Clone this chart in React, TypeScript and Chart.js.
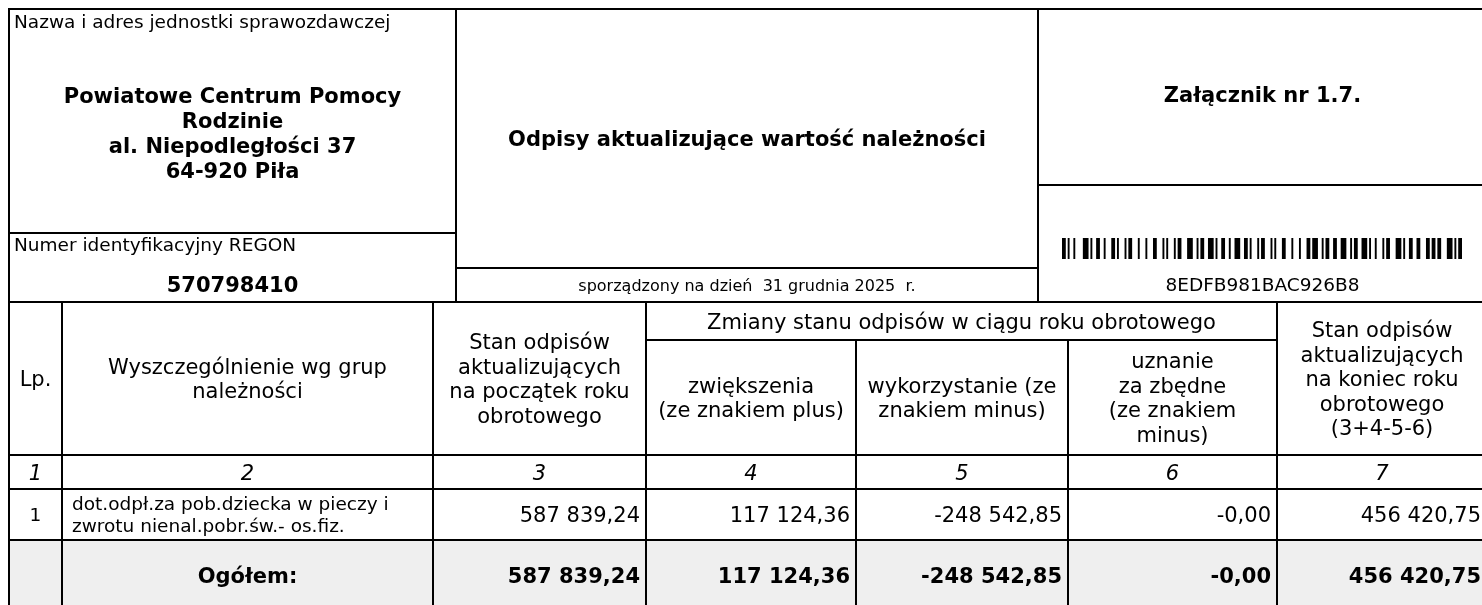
import { useEffect, useRef } from "react";
import { Chart, registerables } from "chart.js";

Chart.register(...registerables);

// ---------- data ----------
const unitLabel = "Nazwa i adres jednostki sprawozdawczej";
const unitNameLines = ["Powiatowe Centrum Pomocy", "Rodzinie", "al. Niepodległości 37", "64-920 Piła"];
const regonLabel = "Numer identyfikacyjny REGON";
const regonValue = "570798410";
const reportTitle = "Odpisy aktualizujące wartość należności";
const reportDate = "sporządzony na dzień  31 grudnia 2025  r.";
const annexLabel = "Załącznik nr 1.7.";
const documentCode = "8EDFB981BAC926B8";

const headerLp = ["Lp."];
const headerName = ["Wyszczególnienie wg grup", "należności"];
const headerOpening = ["Stan odpisów", "aktualizujących", "na początek roku", "obrotowego"];
const headerChanges = ["Zmiany stanu odpisów w ciągu roku obrotowego"];
const headerIncrease = ["zwiększenia", "(ze znakiem plus)"];
const headerUsed = ["wykorzystanie (ze", "znakiem minus)"];
const headerReleased = ["uznanie", "za zbędne", "(ze znakiem", "minus)"];
const headerClosing = ["Stan odpisów", "aktualizujących", "na koniec roku", "obrotowego", "(3+4-5-6)"];
const columnNumbers = ["1", "2", "3", "4", "5", "6", "7"];

const rowLp = ["1"];
const rowNames = [["dot.odpł.za pob.dziecka w pieczy i", "zwrotu nienal.pobr.św.- os.fiz."]];
const openingBalance = [587839.24];
const increases = [117124.36];
const usedAmounts = [-248542.85];
const releasedAmounts = [-0.0];
const closingBalance = [456420.75];

const totalLabel = "Ogółem:";
const totalValues = [587839.24, 117124.36, -248542.85, -0.0, 456420.75];

// ---------- layout (page pixels) ----------
const W = 1482;
const H = 605;
const FONT = "'DejaVu Sans'";
const L = {
  left: 9,
  right: 1487,
  top: 9,
  topSplit1: 456,
  topSplit2: 1038,
  leftBoxLine: 233,
  midBoxLine: 268,
  rightBoxLine: 185,
  headerTop: 302,
  subHeaderLine: 340,
  headerBottom: 455,
  numbersBottom: 489,
  rowBottom: 540,
  totalBottom: 611,
  cols: [9, 62, 433, 646, 856, 1068, 1277, 1487],
};

const C128 = [
  "212222","222122","222221","121223","121322","131222","122213","122312","132212","221213",
  "221312","231212","112232","122132","122231","113222","123122","123221","223211","221132",
  "221231","213212","223112","312131","311222","321122","321221","312212","322112","322211",
  "212123","212321","232121","111323","131123","131321","112313","132113","132311","211313",
  "231113","231311","112133","112331","132131","113123","113321","133121","313121","211331",
  "231131","213113","213311","213131","311123","311321","331121","312113","312311","332111",
  "314111","221411","431111","111224","111422","121124","121421","141122","141221","112214",
  "112412","122114","122411","142112","142211","241211","221114","413111","241112","134111",
  "111242","121142","121241","114212","124112","124211","411212","421112","421211","212141",
  "214121","412121","111143","111341","131141","114113","114311","411113","411311","113141",
  "114131","311141","411131","211412","211214","211232","2331112",
];

function code128B(text: string): number[] {
  const vals = [104];
  for (const ch of text) vals.push(ch.charCodeAt(0) - 32);
  let sum = 104;
  for (let i = 1; i < vals.length; i++) sum += i * vals[i];
  vals.push(sum % 103);
  vals.push(106);
  const widths: number[] = [];
  vals.forEach((v) => C128[v].split("").forEach((d) => widths.push(+d)));
  return widths;
}

function fmt(v: number): string {
  const neg = v < 0 || Object.is(v, -0);
  const abs = Math.abs(v);
  const [ip, dp] = abs.toFixed(2).split(".");
  const grouped = ip.replace(/\B(?=(\d{3})+(?!\d))/g, " ");
  return (neg ? "-" : "") + grouped + "," + dp;
}

const tablePlugin = {
  id: "tablePlugin",
  afterDraw(chart: any) {
    const ctx: CanvasRenderingContext2D = chart.ctx;
    const xs = chart.scales.x;
    const ys = chart.scales.y;
    const X = (v: number) => xs.getPixelForValue(v);
    const Y = (v: number) => ys.getPixelForValue(v);

    ctx.save();
    ctx.fillStyle = "#fff";
    ctx.fillRect(0, 0, W, H);

    // total row background
    ctx.fillStyle = "#efefef";
    ctx.fillRect(X(L.left), Y(L.rowBottom), X(L.right) - X(L.left), Y(L.totalBottom) - Y(L.rowBottom));

    // lines
    ctx.strokeStyle = "#000";
    ctx.lineWidth = 2;
    ctx.lineCap = "square";
    const hl = (y: number, x1: number, x2: number) => {
      ctx.beginPath();
      ctx.moveTo(X(x1), Y(y));
      ctx.lineTo(X(x2), Y(y));
      ctx.stroke();
    };
    const vl = (x: number, y1: number, y2: number) => {
      ctx.beginPath();
      ctx.moveTo(X(x), Y(y1));
      ctx.lineTo(X(x), Y(y2));
      ctx.stroke();
    };
    hl(L.top, L.left, L.right);
    vl(L.left, L.top, L.totalBottom);
    vl(L.topSplit1, L.top, L.headerTop);
    vl(L.topSplit2, L.top, L.headerTop);
    vl(L.right, L.top, L.totalBottom);
    hl(L.leftBoxLine, L.left, L.topSplit1);
    hl(L.midBoxLine, L.topSplit1, L.topSplit2);
    hl(L.rightBoxLine, L.topSplit2, L.right);
    hl(L.headerTop, L.left, L.right);
    hl(L.subHeaderLine, L.cols[3], L.cols[6]);
    hl(L.headerBottom, L.left, L.right);
    hl(L.numbersBottom, L.left, L.right);
    hl(L.rowBottom, L.left, L.right);
    hl(L.totalBottom, L.left, L.right);
    L.cols.forEach((c, i) => {
      if (i === 4 || i === 5) vl(c, L.subHeaderLine, L.totalBottom);
      else vl(c, L.headerTop, L.totalBottom);
    });

    // text helpers
    ctx.fillStyle = "#000";
    const text = (s: string, x: number, y: number, font: string, align: CanvasTextAlign) => {
      ctx.font = font;
      ctx.textAlign = align;
      ctx.textBaseline = "alphabetic";
      ctx.fillText(s, X(x), Y(y));
    };
    const block = (lines: string[], cx: number, cy: number, font: string, lh: number, capHalf: number, align: CanvasTextAlign = "center") => {
      const n = lines.length;
      lines.forEach((s, i) => {
        const lc = cy + (i - (n - 1) / 2) * lh;
        text(s, cx, lc + capHalf, font, align);
      });
    };

    const fLabel = `18.5px ${FONT}`;
    const fBold = `bold 21px ${FONT}`;
    const fHead = `21px ${FONT}`;
    const fItal = `italic 21px ${FONT}`;
    const fDesc = `18.5px ${FONT}`;
    const fDate = `16px ${FONT}`;

    // top section
    const leftCx = (L.left + L.topSplit1) / 2;
    const midCx = (L.topSplit1 + L.topSplit2) / 2;
    const rightCx = (L.topSplit2 + L.right) / 2;
    text(unitLabel, 14, 28, fLabel, "left");
    unitNameLines.forEach((s, i) => text(s, leftCx, 103 + i * 25, fBold, "center"));
    text(regonLabel, 14, 251, fLabel, "left");
    text(regonValue, leftCx, 292, fBold, "center");
    text(reportTitle, midCx, 146, fBold, "center");
    text(reportDate, midCx, 291, fDate, "center");
    text(annexLabel, rightCx, 102, fBold, "center");
    text(documentCode, rightCx, 291, fLabel, "center");

    // barcode
    const widths = code128B(documentCode);
    const modules = widths.reduce((a, b) => a + b, 0);
    const bx0 = 1062, bx1 = 1462, by0 = 238, by1 = 259;
    const mw = (bx1 - bx0) / modules;
    let m = 0;
    widths.forEach((w, i) => {
      if (i % 2 === 0) {
        ctx.fillRect(X(bx0 + m * mw), Y(by0), X(bx0 + (m + w) * mw) - X(bx0 + m * mw), Y(by1) - Y(by0));
      }
      m += w;
    });

    // table header
    const cc = (i: number) => (L.cols[i] + L.cols[i + 1]) / 2;
    const hcy = (L.headerTop + L.headerBottom) / 2;
    const scy = (L.subHeaderLine + L.headerBottom) / 2;
    const lh = 24.5;
    const cap = 7.6;
    block(headerLp, cc(0), hcy, fHead, lh, cap);
    block(headerName, cc(1), hcy, fHead, lh, cap);
    block(headerOpening, cc(2), hcy, fHead, lh, cap);
    block(headerChanges, (L.cols[3] + L.cols[6]) / 2, (L.headerTop + L.subHeaderLine) / 2, fHead, lh, cap);
    block(headerIncrease, cc(3), scy, fHead, lh, cap);
    block(headerUsed, cc(4), scy, fHead, lh, cap);
    block(headerReleased, cc(5), scy, fHead, lh, cap);
    block(headerClosing, cc(6), hcy, fHead, lh, cap);

    // column numbers
    const ncy = (L.headerBottom + L.numbersBottom) / 2;
    columnNumbers.forEach((s, i) => block([s], cc(i), ncy, fItal, lh, cap));

    // data rows
    const rcy = (L.numbersBottom + L.rowBottom) / 2;
    rowLp.forEach((lp, r) => {
      block([lp], cc(0), rcy, fDesc, lh, 6.7);
      block(rowNames[r], L.cols[1] + 10, rcy, fDesc, 21.5, 6.7, "left");
      const vals = [openingBalance[r], increases[r], usedAmounts[r], releasedAmounts[r], closingBalance[r]];
      vals.forEach((v, k) => block([fmt(v)], L.cols[k + 3] - 6, rcy, fHead, lh, cap, "right"));
    });

    // total row
    const tcy = (L.rowBottom + L.totalBottom) / 2;
    block([totalLabel], cc(1), tcy, fBold, lh, cap);
    totalValues.forEach((v, k) => block([fmt(v)], L.cols[k + 3] - 6, tcy, fBold, lh, cap, "right"));

    ctx.restore();
  },
};

export default function App() {
  const ref = useRef<HTMLCanvasElement>(null);
  useEffect(() => {
    const chart = new Chart(ref.current as HTMLCanvasElement, {
      type: "scatter",
      data: { datasets: [] },
      options: {
        animation: false,
        responsive: false,
        maintainAspectRatio: false,
        devicePixelRatio: 1,
        layout: { padding: 0 },
        scales: {
          x: { type: "linear", min: 0, max: W, display: false },
          y: { type: "linear", min: 0, max: H, reverse: true, display: false },
        },
        plugins: { legend: { display: false }, tooltip: { enabled: false } },
      },
      plugins: [tablePlugin],
    });
    return () => chart.destroy();
  }, []);
  return (
    <div style={{ position: "fixed", left: 0, top: 0, width: W, height: H, background: "#fff", overflow: "hidden" }}>
      <canvas ref={ref} width={W} height={H} style={{ display: "block", width: W, height: H }} />
    </div>
  );
}
